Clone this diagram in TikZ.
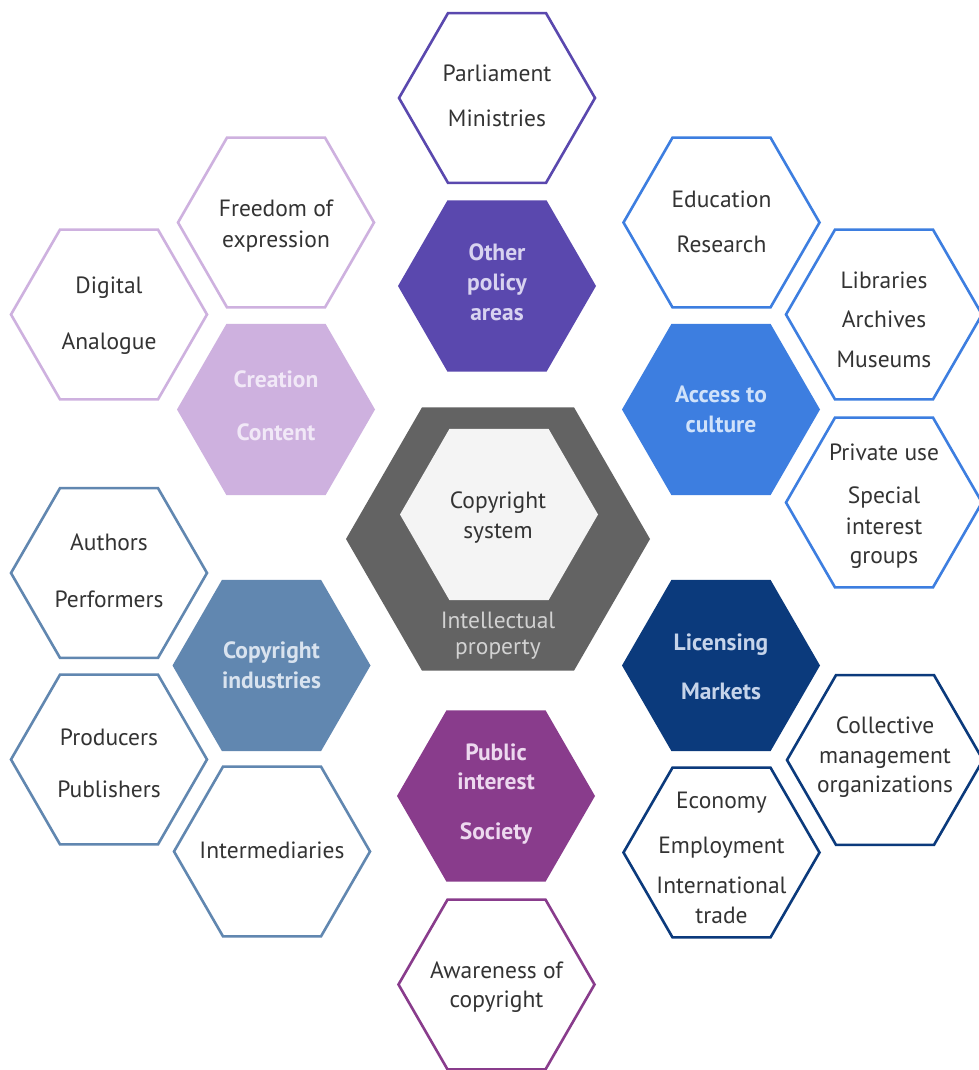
\documentclass[tikz,border=0pt]{standalone}
\usepackage{fontspec}
\setmainfont{PT Sans}
\usetikzlibrary{shapes.geometric}
\definecolor{txtdark}{HTML}{333333}
\definecolor{cpurple}{HTML}{5A48AE}
\definecolor{tpurple}{HTML}{D8D3F0}
\definecolor{clilac}{HTML}{CEB1DF}
\definecolor{tlilac}{HTML}{F1E8F7}
\definecolor{cblue}{HTML}{3D7EE0}
\definecolor{tblue}{HTML}{D0E2FA}
\definecolor{csteel}{HTML}{6187B0}
\definecolor{tsteel}{HTML}{D9E3EF}
\definecolor{cnavy}{HTML}{0B3A7C}
\definecolor{tnavy}{HTML}{C6D4EA}
\definecolor{cmag}{HTML}{893C8C}
\definecolor{tmag}{HTML}{EDD9EF}
\definecolor{cgrey}{HTML}{636363}
\definecolor{cinner}{HTML}{F4F4F4}
\definecolor{tgrey}{HTML}{D2D2D2}
\begin{document}
\begin{tikzpicture}[x=1pt,y=-1pt,
  hexbase/.style={regular polygon, regular polygon sides=6, inner sep=0pt, outer sep=0pt},
  hexline/.style={hexbase, minimum size=196pt, draw=#1, line width=2.6pt, fill=white},
  hexfill/.style={hexbase, minimum size=198pt, fill=#1},
  txt/.style={font=\fontsize{23.5}{28}\selectfont, text=txtdark, inner sep=0pt, text height=0.7em, text depth=0pt, yshift=-5pt},
  txtb/.style={txt, font=\fontsize{23.5}{28}\selectfont\bfseries, text=#1}]
\useasboundingbox (0,0) rectangle (978,1070);
\fill[white] (0,0) rectangle (978,1070);

% centre
\node[hexbase, minimum size=304pt, fill=cgrey] (core) at (498,539) {};
\node[hexbase, minimum size=198pt, fill=cinner] (coreinner) at (499,514.5) {};
\node[txt] (t1) at (498,500) {Copyright};
\node[txt] (t2) at (498,530) {system};
\node[txt, text=tgrey] (t3) at (498,620) {Intellectual};
\node[txt, text=tgrey] (t4) at (498,646) {property};

% top: other policy areas
\node[hexline=cpurple] (parl) at (497,98) {};
\node[txt] at (497,73) {Parliament};
\node[txt] at (497,118.5) {Ministries};
\node[hexfill=cpurple] (policy) at (497,286) {};
\node[txtb=tpurple] at (497,251.5) {Other};
\node[txtb=tpurple] at (497,281.5) {policy};
\node[txtb=tpurple] at (497,311.5) {areas};

% upper left: creation
\node[hexline=clilac] (free) at (276,222.5) {};
\node[txt] at (276,208) {Freedom of};
\node[txt] at (276,238.5) {expression};
\node[hexline=clilac] (digi) at (109,314.5) {};
\node[txt] at (109,285) {Digital};
\node[txt] at (109,340.5) {Analogue};
\node[hexfill=clilac] (creat) at (276,409.5) {};
\node[txtb=tlilac] at (276,379) {Creation};
\node[txtb=tlilac] at (276,432) {Content};

% upper right: access to culture
\node[hexline=cblue] (edu) at (721.5,222.5) {};
\node[txt] at (721.5,199) {Education};
\node[txt] at (721.5,244) {Research};
\node[hexline=cblue] (lib) at (884,314.5) {};
\node[txt] at (884,280) {Libraries};
\node[txt] at (884,319) {Archives};
\node[txt] at (884,358.5) {Museums};
\node[hexfill=cblue] (access) at (721,409.5) {};
\node[txtb=tblue] at (721,393.5) {Access to};
\node[txtb=tblue] at (721,423.5) {culture};
\node[hexline=cblue] (priv) at (884,502.5) {};
\node[txt] at (884,452) {Private use};
\node[txt] at (884,495) {Special};
\node[txt] at (884,525.5) {interest};
\node[txt] at (884,555) {groups};

% lower left: copyright industries
\node[hexline=csteel] (auth) at (109,573) {};
\node[txt] at (109,542) {Authors};
\node[txt] at (109,598.5) {Performers};
\node[hexfill=csteel] (ind) at (271.5,665.5) {};
\node[txtb=tsteel] at (271.5,650) {Copyright};
\node[txtb=tsteel] at (271.5,680) {industries};
\node[hexline=csteel] (prod) at (109,759.5) {};
\node[txt] at (109,737) {Producers};
\node[txt] at (109,789) {Publishers};
\node[hexline=csteel] (inter) at (272,851.5) {};
\node[txt] at (272,850) {Intermediaries};

% bottom: public interest
\node[hexfill=cmag] (pub) at (496,796) {};
\node[txtb=tmag] at (496,751.5) {Public};
\node[txtb=tmag] at (496,780.5) {interest};
\node[txtb=tmag] at (496,830.5) {Society};
\node[hexline=cmag] (aware) at (496.5,984.5) {};
\node[txt] at (496.5,970) {Awareness of};
\node[txt] at (496.5,998.5) {copyright};

% lower right: licensing markets
\node[hexfill=cnavy] (lic) at (721,665.5) {};
\node[txtb=tnavy] at (721,641.5) {Licensing};
\node[txtb=tnavy] at (721,691) {Markets};
\node[hexline=cnavy] (coll) at (885,760) {};
\node[txt] at (885,725) {Collective};
\node[txt] at (885,754.5) {management};
\node[txt] at (885,783.5) {organizations};
\node[hexline=cnavy] (eco) at (721.5,852.5) {};
\node[txt] at (721.5,799.5) {Economy};
\node[txt] at (721.5,845) {Employment};
\node[txt] at (721.5,884.5) {International};
\node[txt] at (721.5,915) {trade};
\end{tikzpicture}
\end{document}
